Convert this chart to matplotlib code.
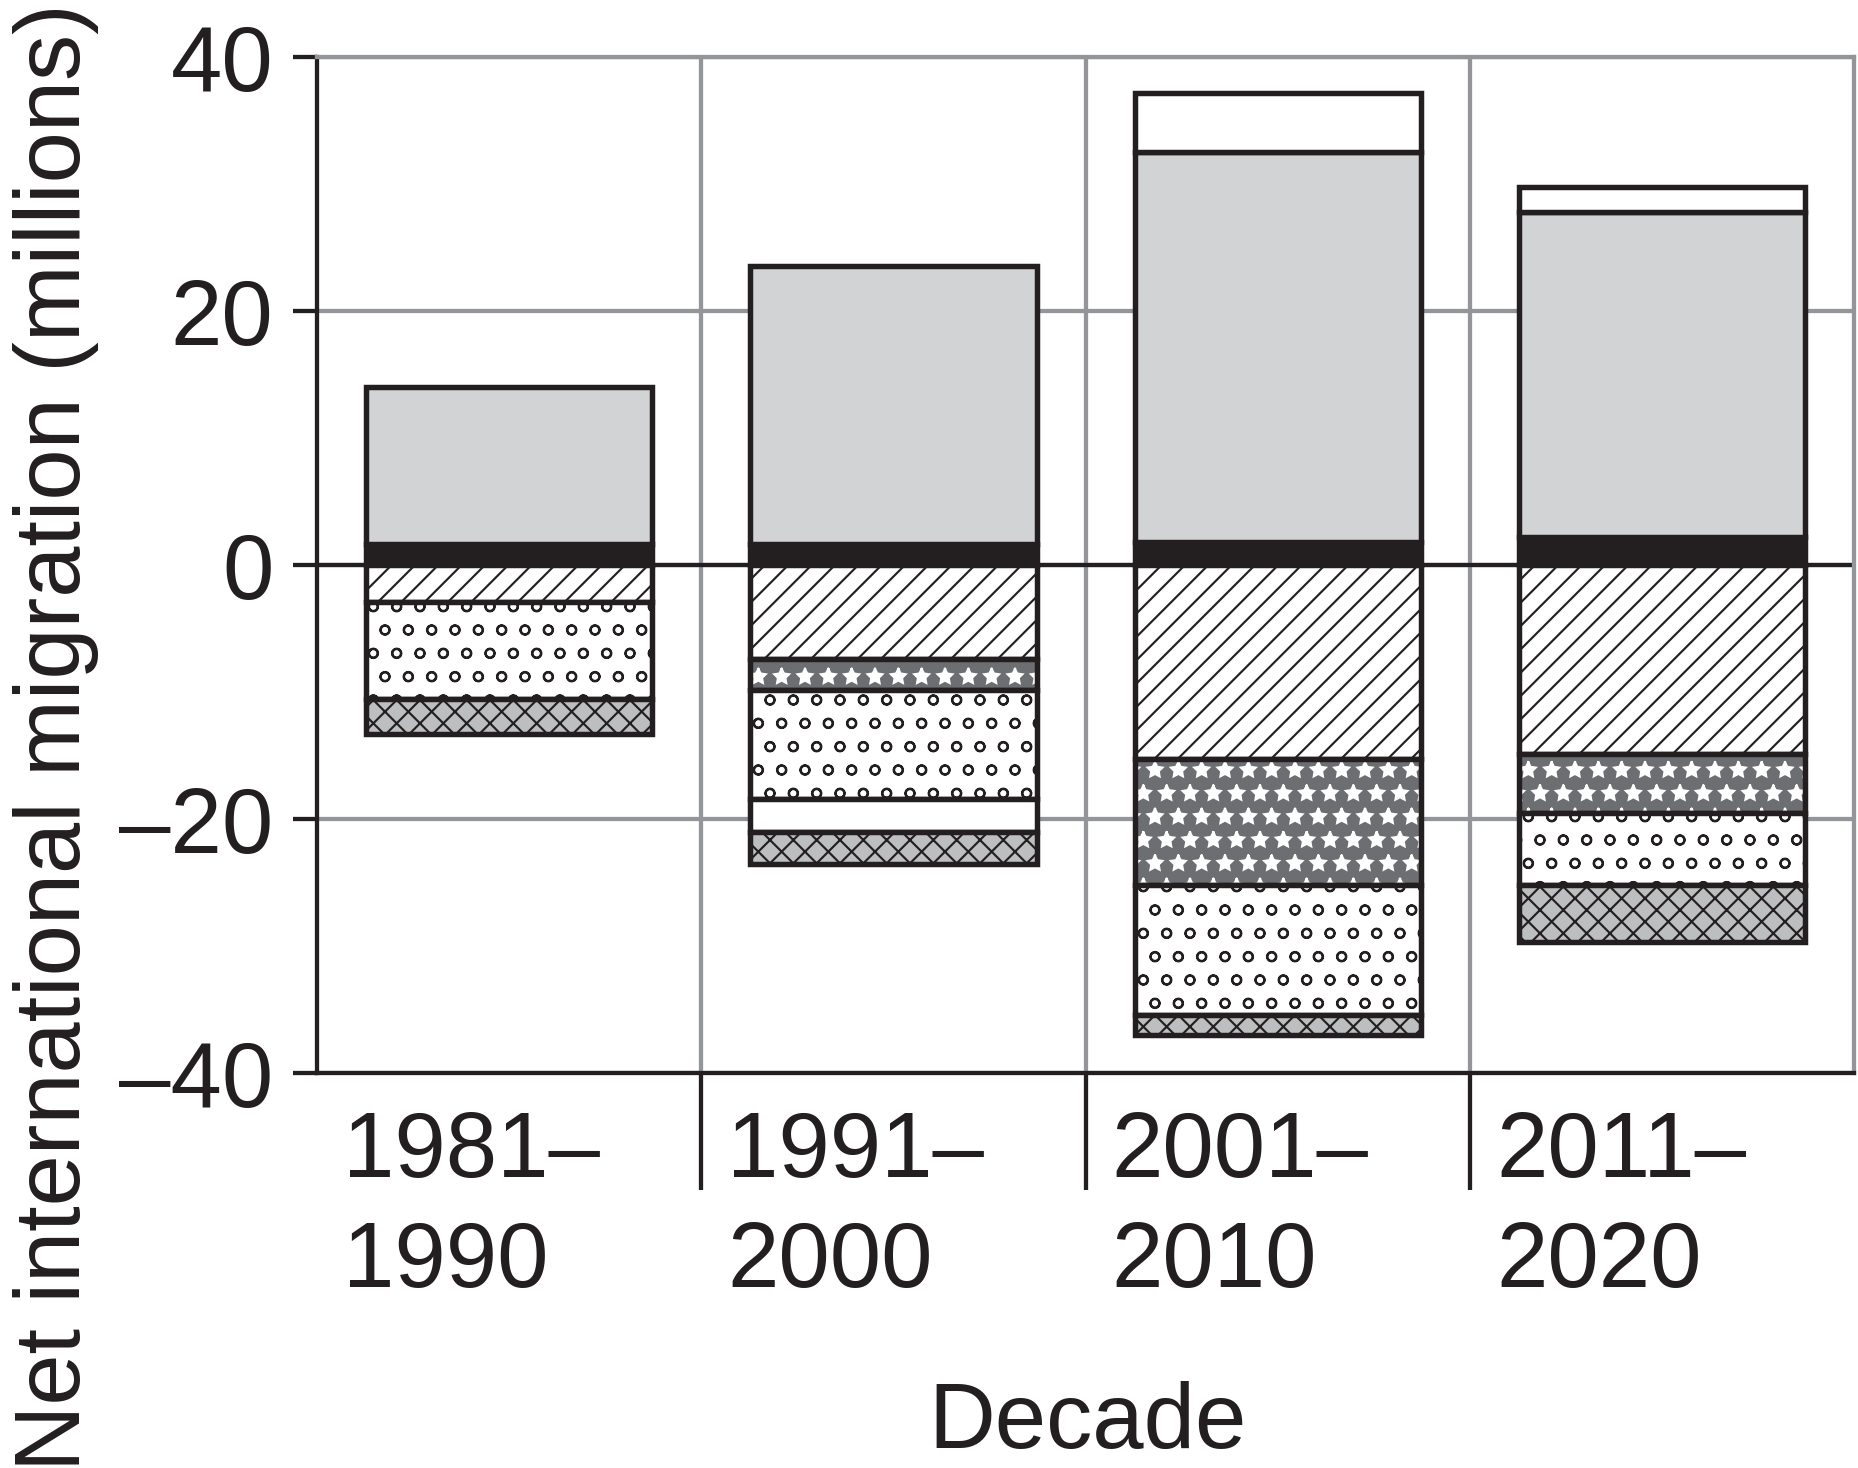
import matplotlib
matplotlib.use("Agg")
import matplotlib.pyplot as plt
import numpy as np

# ---- data (millions) ----
decades = ["1981\u2013\n1990", "1991\u2013\n2000", "2001\u2013\n2010", "2011\u2013\n2020"]
# positive components (stacked upward from 0)
pos_black = [1.7, 1.7, 1.8, 2.2]
pos_gray = [12.3, 21.9, 30.7, 25.6]
pos_white = [0.0, 0.0, 4.7, 2.0]
# negative components (stacked downward from 0)
neg_hatched = [-2.9, -7.4, -15.3, -14.9]
neg_triangles = [0.0, -2.4, -9.9, -4.6]
neg_dots = [-7.6, -8.6, -10.2, -5.7]
neg_white = [0.0, -2.6, 0.0, 0.0]
neg_cross = [-2.8, -2.5, -1.6, -4.5]
yticks = [-40, -20, 0, 20, 40]

DPI = 140
INK = "#231f20"
GRID = "#939598"
plt.rcParams["font.family"] = ["Liberation Sans", "DejaVu Sans"]
plt.rcParams["hatch.linewidth"] = 1.1
plt.rcParams["text.color"] = INK

fig = plt.figure(figsize=(1858 / DPI, 1468 / DPI), dpi=DPI)
ax = fig.add_axes([0.1706, 0.269, 0.998 - 0.1706, 0.961 - 0.269])

x = np.arange(len(decades))
W = 0.745
EW = 2.8
LW = 2.2

def seg(vals, bottoms, **kw):
    vals = np.array(vals, dtype=float)
    mask = vals != 0
    ax.bar(x[mask], vals[mask], W, bottom=np.array(bottoms)[mask], zorder=3, **kw)
    return np.array(bottoms) + vals

# positive stack
b = np.zeros(4)
b = seg(pos_black, b, color=INK, edgecolor=INK, linewidth=EW)
b = seg(pos_gray, b, color="#d1d3d4", edgecolor=INK, linewidth=EW)
b = seg(pos_white, b, color="white", edgecolor=INK, linewidth=EW)

# negative stack
b = np.zeros(4)
b = seg(neg_hatched, b, color="white", edgecolor=INK, linewidth=EW, hatch="//")
b0 = b.copy()
seg(neg_triangles, b0, color="#6d6e71", edgecolor="white", linewidth=0, hatch="*")
b = seg(neg_triangles, b0, fill=False, edgecolor=INK, linewidth=EW)
b = seg(neg_dots, b, color="white", edgecolor=INK, linewidth=EW, hatch="o")
b = seg(neg_white, b, color="white", edgecolor=INK, linewidth=EW)
b = seg(neg_cross, b, color="#bcbec0", edgecolor=INK, linewidth=EW, hatch="xx")

ax.set_xlim(-0.5, len(decades) - 0.5)
ax.set_ylim(-40, 40)
ax.set_yticks(yticks)
ax.set_yticklabels([(("\u2013" + str(abs(v))) if v < 0 else str(v)) for v in yticks])
ax.set_xticks(x[:-1] + 0.5)
ax.set_xticklabels([])

ax.grid(True, color=GRID, linewidth=LW, zorder=0)
ax.set_axisbelow(True)
ax.axhline(0, color=INK, linewidth=LW, zorder=1)

ax.tick_params(axis="y", direction="out", length=12.3, width=LW, color=INK,
               pad=10, labelsize=47.5, labelcolor=INK)
ax.tick_params(axis="x", direction="out", length=60, width=LW, color=INK)

for s in ["left", "bottom"]:
    ax.spines[s].set_color(INK)
    ax.spines[s].set_linewidth(LW)
for s in ["top", "right"]:
    ax.spines[s].set_color(GRID)
    ax.spines[s].set_linewidth(LW)

trans = matplotlib.transforms.blended_transform_factory(ax.transData, ax.transAxes)
for i, lab in enumerate(decades):
    ax.text(i - 0.5 + 0.068, -0.036, lab, transform=trans, ha="left", va="top",
            fontsize=47.5, color=INK, linespacing=1.36)

fig.text(0.0300, 0.498, "Net international migration (millions)", rotation=90,
         ha="center", va="center", fontsize=47.3, color=INK)
fig.text(0.5855, 0.001, "Decade", ha="center", va="bottom", fontsize=47.5, color=INK)

fig.savefig("out.png", dpi=DPI)
